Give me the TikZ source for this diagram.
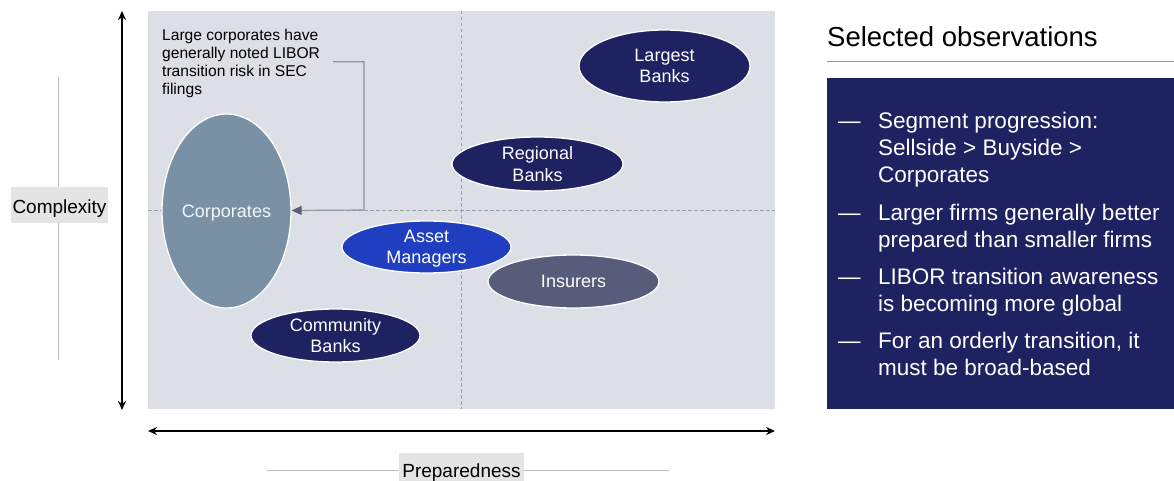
\documentclass[tikz,border=0pt]{standalone}
\usepackage{fontspec}
\setmainfont{Liberation Sans}
\usetikzlibrary{shapes.geometric,arrows.meta}
\definecolor{panel}{HTML}{DCDFE5}
\definecolor{navy}{HTML}{1E2261}
\definecolor{assetblue}{HTML}{1F3FC0}
\definecolor{insgray}{HTML}{575C7A}
\definecolor{corpgray}{HTML}{7A91A5}
\definecolor{labelbg}{HTML}{E4E4E4}
\definecolor{guidecol}{HTML}{BDBDBD}
\definecolor{midcol}{HTML}{9CA0A8}
\definecolor{connline}{HTML}{8E939E}
\definecolor{conntip}{HTML}{5B6077}
\tikzset{
  blob/.style={ellipse, draw=white, line width=1.3pt, inner sep=0pt,
    text=white, align=center, text depth=0pt, font=\fontsize{18}{21.5}\selectfont},
  axisarrow/.style={line width=2.4pt, {Stealth[length=9pt,width=8pt]}-{Stealth[length=9pt,width=8pt]}},
  midrule/.style={draw=midcol, line width=0.8pt, dash pattern=on 3.5pt off 2.5pt},
  guideline/.style={draw=guidecol, line width=1pt},
  axislabel/.style={fill=labelbg, inner xsep=2pt, inner ysep=6pt, anchor=base,
    font=\fontsize{19}{22}\selectfont},
  bullettext/.style={anchor=north west, inner sep=0pt, text=white, align=left,
    font=\fontsize{22.5}{26.7}\selectfont},
  bulletdash/.style={anchor=base west, inner sep=0pt, text=white,
    font=\fontsize{22.5}{26.7}\selectfont},
}
\begin{document}
\begin{tikzpicture}[x=1pt,y=-1pt]
\useasboundingbox (0,0) rectangle (1174,481);

% chart area
\fill[panel] (148,11) rectangle (775,409);
\draw[midrule] (461.5,11) -- (461.5,409);
\draw[midrule] (148,210) -- (775,210);

% axes
\coordinate (ytop) at (122,11);
\coordinate (ybot) at (122,410);
\coordinate (xleft) at (148,431);
\coordinate (xright) at (775,431);
\draw[axisarrow] (ybot) -- (ytop);
\draw[axisarrow] (xleft) -- (xright);

% axis labels with guide lines
\coordinate (cg1) at (58,77);
\coordinate (cg2) at (58,360);
\draw[guideline] (cg1) -- (cg2);
\node[axislabel, text height=20pt, text depth=4pt] (complexity) at (59.5,213) {Complexity};
\coordinate (pg1) at (267,470);
\coordinate (pg2) at (669,470);
\draw[guideline] (pg1) -- (pg2);
\node[axislabel, text height=18pt, text depth=4pt, minimum width=125pt] (prep) at (461.5,477) {Preparedness};

% segments
\node[blob, fill=corpgray, text=white!92!corpgray, minimum width=129pt, minimum height=194pt] (corp) at (226.5,211) {Corporates};
\node[blob, fill=navy, minimum width=171pt, minimum height=72pt] (largest) at (664.5,66) {Largest\\Banks};
\node[blob, fill=navy, minimum width=171pt, minimum height=54pt] (regional) at (537.5,164) {Regional\\Banks};
\node[blob, fill=assetblue, minimum width=169pt, minimum height=52pt] (asset) at (426.5,247) {Asset\\Managers};
\node[blob, fill=insgray, minimum width=171pt, minimum height=53pt] (insurers) at (573.5,281.5) {Insurers};
\node[blob, fill=navy, minimum width=169pt, minimum height=53pt] (community) at (335.5,335.5) {Community\\Banks};

% annotation and its pointer
\node[anchor=north west, inner sep=0pt, align=left, font=\fontsize{15.6}{18.2}\selectfont] (note) at (162,28.8)
  {Large corporates have\\generally noted LIBOR\\transition risk in SEC\\filings};
\coordinate (noteend) at (333,61.7);
\coordinate (bend) at (364,210);
\draw[connline, line width=1.2pt, -{Triangle[length=10pt,width=9pt,fill=conntip,color=conntip]}]
  (noteend) -| (bend) -- (corp);

% observations panel
\node[anchor=base west, inner sep=0pt, font=\fontsize{27.5}{32}\selectfont] (obstitle) at (827,46.7) {Selected observations};
\coordinate (rule1) at (827,61.7);
\coordinate (rule2) at (1174,61.7);
\draw[guidecol!80!black, line width=1pt] (rule1) -- (rule2);
\node[fill=navy, anchor=north west, inner sep=0pt, minimum width=347pt, minimum height=331pt] (obsbox) at (827,78) {};

\node[bulletdash] (d1) at (838,128.3) {—};
\node[bullettext] (b1) at (878,112.2) {Segment progression:\\Sellside > Buyside >\\Corporates};
\node[bulletdash] (d2) at (838,220) {—};
\node[bullettext] (b2) at (878,203.9) {Larger firms generally better\\prepared than smaller firms};
\node[bulletdash] (d3) at (838,284.3) {—};
\node[bullettext] (b3) at (878,268.2) {LIBOR transition awareness\\is becoming more global};
\node[bulletdash] (d4) at (838,348.3) {—};
\node[bullettext] (b4) at (878,332.2) {For an orderly transition, it\\must be broad-based};
\end{tikzpicture}
\end{document}
